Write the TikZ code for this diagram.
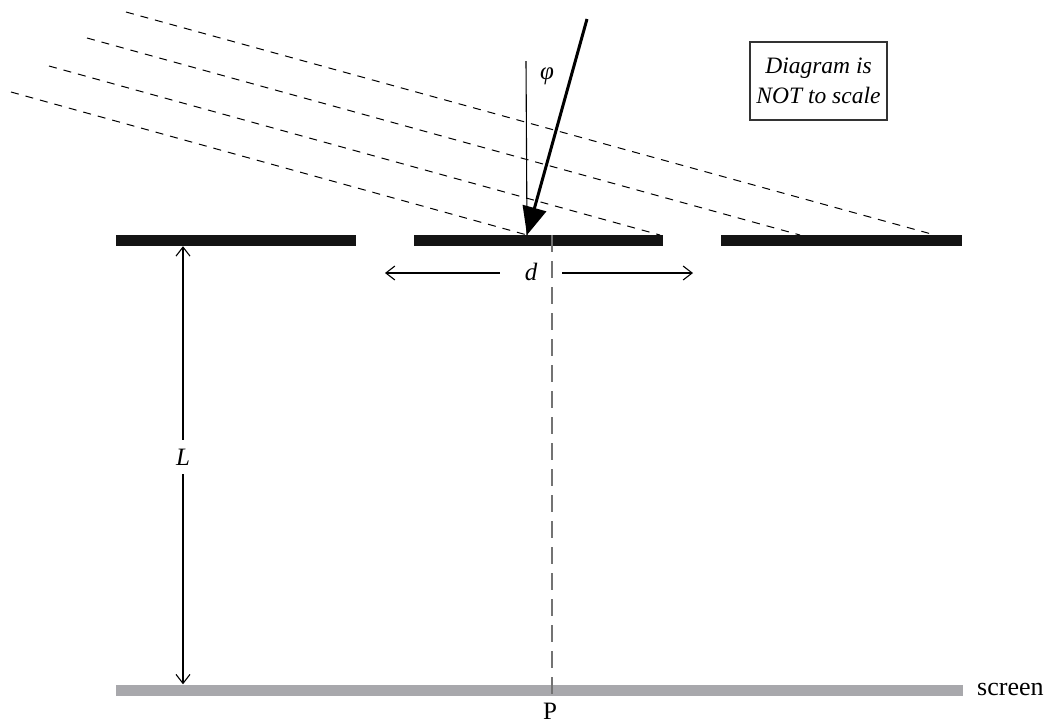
\documentclass[tikz,border=0pt]{standalone}
\usepackage{fontspec}
\setmainfont{Liberation Serif}
\usetikzlibrary{arrows.meta}
\definecolor{screengray}{RGB}{168,168,172}
\begin{document}
\begin{tikzpicture}[x=1pt,y=-1pt,
  txt/.style={font=\fontsize{25}{29}\selectfont, inner sep=0pt},
  barrier/.style={fill=black!92, draw=none, inner sep=0pt, minimum height=11pt, anchor=west},
  screenbar/.style={fill=screengray, draw=none, inner sep=0pt, minimum height=11pt, anchor=west},
  ray/.style={line width=1pt, dash pattern=on 8pt off 7pt},
  thinline/.style={line width=1.1pt},
  thinarrow/.style={line width=1.1pt, -{Straight Barb[length=9pt,width=14pt,line width=1.1pt]}},
  centerline/.style={line width=1.1pt, draw=black!55, dash pattern=on 17pt off 9pt},
  bigarrow/.style={line width=3pt, -{Triangle[length=28pt,width=24pt]}},
  notebox/.style={draw=black!80, line width=1.3pt, minimum width=137pt, minimum height=78pt, align=center, inner sep=0pt, font=\itshape\fontsize{23.5}{30}\selectfont}
]
\useasboundingbox (0,0) rectangle (1046,724);

% barrier with slits
\node[barrier, minimum width=240pt] (b1) at (116,240.5) {};
\node[barrier, minimum width=249pt] (b2) at (414,240.5) {};
\node[barrier, minimum width=241pt] (b3) at (721,240.5) {};

% screen
\node[screenbar, minimum width=847pt] (scr) at (116,690) {};
\node[txt, anchor=west, font=\fontsize{26}{30}\selectfont] (scrlabel) at (977,689) {screen};

% key points
\coordinate (tip) at (527,235);
\coordinate (ctop) at (552,235);
\coordinate (cbot) at (552,697);
\coordinate (vtop) at (526,61);
\coordinate (atail) at (587,19);

% incident wavefront rays (dashed)
\coordinate (r1s) at (126,12);  \coordinate (r1e) at (935,235);
\coordinate (r2s) at (87,38);   \coordinate (r2e) at (800,235);
\coordinate (r3s) at (49,66);   \coordinate (r3e) at (660,235);
\coordinate (r4s) at (11,92);   \coordinate (r4e) at (527,235);
\draw[ray] (r1s) -- (r1e);
\draw[ray] (r2s) -- (r2e);
\draw[ray] (r3s) -- (r3e);
\draw[ray] (r4s) -- (r4e);

% normal and incident direction
\draw[thinline] (vtop) -- (tip);
\node[txt] (phi) at (547,76) {\itshape φ};
\draw[bigarrow] (atail) -- (tip);

% centre line
\draw[centerline] (ctop) -- (cbot);
\node[txt] (P) at (550,711) {P};

% slit separation d
\node[txt, minimum width=62pt, minimum height=24pt] (d) at (531,272) {\itshape d};
\coordinate (dl) at (385,273);
\coordinate (dr) at (693,273);
\draw[thinarrow] (d.west |- dl) -- (dl);
\draw[thinarrow] (d.east |- dr) -- (dr);

% distance L
\node[txt, minimum height=34pt] (L) at (183,457) {\itshape L};
\draw[thinarrow] (L.north) -- (L.north |- b1.south);
\draw[thinarrow] (L.south) -- (L.south |- scr.north);

% note box
\node[notebox] (note) at (818.5,81) {Diagram is\\NOT to scale};
\end{tikzpicture}
\end{document}
